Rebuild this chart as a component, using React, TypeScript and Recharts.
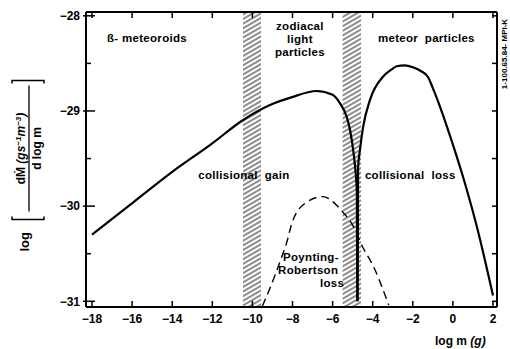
import { ComposedChart, Line, XAxis, YAxis, ReferenceArea, ReferenceDot } from 'recharts';

// axis ticks
const xTicks = [-18, -16, -14, -12, -10, -8, -6, -4, -2, 0, 2];
const yTicks = [-31, -30.5, -30, -29.5, -29, -28.5, -28];

// beta-meteoroids / zodiacal light branch (solid)
const zodiLogM = [-18, -16, -14, -12, -10.5, -9.15, -8.1, -6.8, -6.0, -5.63, -5.3, -5.13, -4.95, -4.85, -4.79, -4.77];
const zodiLogF = [-30.3, -29.97, -29.64, -29.34, -29.1, -28.94, -28.86, -28.79, -28.83, -28.92, -29.06, -29.2, -29.45, -29.65, -29.85, -31.0];

// meteor particles branch (solid)
const meteorLogM = [-4.75, -4.73, -4.63, -4.48, -4.13, -3.49, -3.1, -2.8, -2.4, -2.0, -1.6, -1.25, -1.0, -0.6, -0.13, 0.6, 1.2, 2.0];
const meteorLogF = [-31.0, -29.6, -29.4, -29.17, -28.88, -28.64, -28.57, -28.53, -28.52, -28.54, -28.58, -28.64, -28.76, -28.98, -29.27, -29.76, -30.22, -30.94];

// Poynting-Robertson loss (dashed)
const prLogM = [-9.5, -9.1, -8.6, -8.3, -8.0, -7.3, -6.5, -5.8, -5.5, -5.0, -4.5, -3.95, -3.2];
const prLogF = [-31.05, -30.85, -30.57, -30.39, -30.16, -29.96, -29.9, -29.99, -30.06, -30.2, -30.43, -30.64, -31.04];

// hatched transition bands
const bandStart = [-10.47, -5.5];
const bandEnd = [-9.57, -4.58];

// annotations
const noteText = ['ß- meteoroids', 'zodiacal', 'light', 'particles', 'meteor', 'particles', 'collisional  gain', 'collisional  loss', 'Poynting-', 'Robertson', 'loss'];
const noteX = [-17.25, -7.63, -7.63, -7.63, -3.74, -1.4, -12.7, -4.39, -8.47, -8.72, -6.63];
const noteY = [-28.23, -28.11, -28.24, -28.38, -28.23, -28.23, -29.67, -29.67, -30.53, -30.67, -30.81];
const noteAnchor = ['start', 'middle', 'middle', 'middle', 'start', 'start', 'start', 'start', 'start', 'start', 'start'];

const toRows = (xs: number[], ys: number[]) => xs.map((x, i) => ({ x, y: ys[i] }));
const zodiData = toRows(zodiLogM, zodiLogF);
const meteorData = toRows(meteorLogM, meteorLogF);
const prData = toRows(prLogM, prLogF);

const FONT = '"Liberation Sans", Arial, sans-serif';
const fmt = (v: number) => (v < 0 ? '\u2212' + Math.abs(v) : String(v));

const BottomTick = (props: any) => {
  const { x, y, payload } = props;
  return (
    <g>
      <line x1={x} y1={y} x2={x} y2={y - 6} stroke="#000" strokeWidth={1.5} />
      <text x={x} y={y + 16} textAnchor="middle" fontFamily={FONT} fontWeight="bold" fontSize={12} fill="#000">
        {fmt(payload.value)}
      </text>
    </g>
  );
};

const TopTick = (props: any) => {
  const { x, y } = props;
  return <line x1={x} y1={y} x2={x} y2={y + 6} stroke="#000" strokeWidth={1.5} />;
};

const LeftTick = (props: any) => {
  const { x, y, payload } = props;
  const major = Number.isInteger(payload.value);
  return (
    <g>
      <line x1={major ? x - 3 : x} y1={y} x2={major ? x + 9 : x + 5} y2={y} stroke="#000" strokeWidth={1.5} />
      {major && (
        <text x={x - 6} y={y} dy="0.36em" textAnchor="end" fontFamily={FONT} fontWeight="bold" fontSize={12} fill="#000">
          {fmt(payload.value)}
        </text>
      )}
    </g>
  );
};

const RightTick = (props: any) => {
  const { x, y } = props;
  return <line x1={x} y1={y} x2={x - 5} y2={y} stroke="#000" strokeWidth={1.5} />;
};

const YTitle = (props: any) => {
  const vb = props.viewBox || { x: 0, y: 12, width: 86, height: 295 };
  const ty = vb.y + vb.height / 2 + 92;
  return (
    <g transform={`translate(${vb.x}, ${ty}) rotate(-90)`} fontFamily={FONT} fontWeight="bold" fill="#000">
      <text x={0} y={29} fontSize={13}>log</text>
      <path d="M35,12 L32,12 L32,44 L35,44" fill="none" stroke="#000" strokeWidth={1.5} />
      <text x={103} y={25} fontSize={12} textAnchor="middle">
        dṀ <tspan fontStyle="italic">(gs</tspan>
        <tspan fontStyle="italic" fontSize={8} dy={-4}>−1</tspan>
        <tspan fontStyle="italic" dy={4}>m</tspan>
        <tspan fontStyle="italic" fontSize={8} dy={-4}>−3</tspan>
        <tspan fontStyle="italic" dy={4}>)</tspan>
      </text>
      <line x1={40} y1={29} x2={166} y2={29} stroke="#000" strokeWidth={1.3} />
      <text x={103} y={41} fontSize={12} textAnchor="middle">d log m</text>
      <path d="M168,12 L171,12 L171,44 L168,44" fill="none" stroke="#000" strokeWidth={1.5} />
    </g>
  );
};

const XTitle = (props: any) => {
  const vb = props.viewBox || { x: 86, y: 307, width: 411, height: 42 };
  return (
    <text x={vb.x + vb.width - 62} y={vb.y + 38} fontFamily={FONT} fontWeight="bold" fontSize={12} fill="#000">
      log m <tspan fontStyle="italic">(g)</tspan>
    </text>
  );
};

const SideNote = (props: any) => {
  const vb = props.viewBox || { x: 497, y: 12, width: 13, height: 295 };
  return (
    <text
      transform={`translate(${vb.x + 10}, ${vb.y + 42}) rotate(-90)`}
      textAnchor="middle"
      fontFamily={FONT}
      fontWeight="bold"
      fontSize={8}
      fill="#000"
    >
      1-100.65.84- MPI-K
    </text>
  );
};

export default function App() {
  return (
    <div style={{ position: 'absolute', left: 0, top: 0, background: '#fff' }}>
      <ComposedChart width={510} height={349} margin={{ top: 0, right: 0, bottom: 0, left: 0 }}>
        <defs>
          <pattern id="hatch" width="12" height="4" patternUnits="userSpaceOnUse" patternTransform="rotate(-30)">
            <line x1="0" y1="2" x2="12" y2="2" stroke="#000" strokeWidth="0.9" />
          </pattern>
        </defs>
        <XAxis
          dataKey="x"
          type="number"
          domain={[-18.3, 2.2]}
          ticks={xTicks}
          interval={0}
          allowDataOverflow
          height={42}
          tickSize={0}
          tickMargin={0}
          tickLine={false}
          axisLine={{ stroke: '#000', strokeWidth: 2 }}
          tick={<BottomTick />}
          label={<XTitle />}
        />
        <XAxis
          xAxisId="top"
          orientation="top"
          dataKey="x"
          type="number"
          domain={[-18.3, 2.2]}
          ticks={xTicks}
          interval={0}
          allowDataOverflow
          height={12}
          tickSize={0}
          tickMargin={0}
          tickLine={false}
          axisLine={{ stroke: '#000', strokeWidth: 2 }}
          tick={<TopTick />}
        />
        <YAxis
          type="number"
          domain={[-31.06, -27.96]}
          ticks={yTicks}
          interval={0}
          allowDataOverflow
          width={86}
          tickSize={0}
          tickMargin={0}
          tickLine={false}
          axisLine={{ stroke: '#000', strokeWidth: 2 }}
          tick={<LeftTick />}
          label={<YTitle />}
        />
        <YAxis
          yAxisId="right"
          orientation="right"
          type="number"
          domain={[-31.06, -27.96]}
          ticks={yTicks}
          interval={0}
          allowDataOverflow
          width={13}
          tickSize={0}
          tickMargin={0}
          tickLine={false}
          axisLine={{ stroke: '#000', strokeWidth: 2 }}
          tick={<RightTick />}
          label={<SideNote />}
        />
        {bandStart.map((s, i) => (
          <ReferenceArea key={'band' + i} x1={s} x2={bandEnd[i]} fill="url(#hatch)" fillOpacity={1} stroke="none" ifOverflow="hidden" />
        ))}
        <Line data={prData} dataKey="y" type="monotone" dot={false} stroke="#000" strokeWidth={1.4} strokeDasharray="8 5" isAnimationActive={false} />
        <Line data={zodiData} dataKey="y" type="monotone" dot={false} stroke="#000" strokeWidth={2.2} isAnimationActive={false} />
        <Line data={meteorData} dataKey="y" type="monotone" dot={false} stroke="#000" strokeWidth={2.2} isAnimationActive={false} />
        {noteText.map((t, i) => (
          <ReferenceDot
            key={'note' + i}
            x={noteX[i]}
            y={noteY[i]}
            r={0}
            ifOverflow="visible"
            shape={(p: any) => (
              <text
                x={p.cx}
                y={p.cy}
                dy="0.36em"
                textAnchor={noteAnchor[i]}
                fontFamily={FONT}
                fontWeight="bold"
                fontSize={11.5}
                letterSpacing={0.3}
                style={{ whiteSpace: 'pre' }}
                fill="#000"
              >
                {t}
              </text>
            )}
          />
        ))}
      </ComposedChart>
    </div>
  );
}
